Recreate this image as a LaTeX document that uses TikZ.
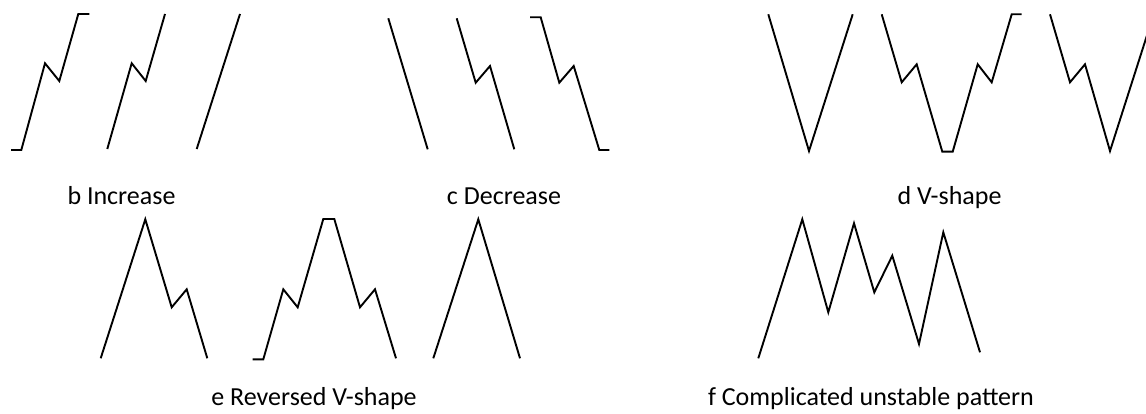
\documentclass[tikz,border=0pt]{standalone}
\usepackage{fontspec}
\setmainfont{Carlito}
\begin{document}
\begin{tikzpicture}[
  x=1pt, y=-1pt,
  trend/.style={draw=black, line width=1.9pt},
  caption/.style={font=\fontsize{26}{30}\selectfont, anchor=base, inner sep=0pt}
]
\useasboundingbox (0,0) rectangle (1146,414);
\clip (0,0) rectangle (1146,414);
% b: increase
\draw[trend] (11,150) -- (21.3,150) -- (45,63.3) -- (59.3,81) -- (78.3,14) -- (89.3,14);
\draw[trend] (107.3,149) -- (131.7,63.3) -- (145.7,81) -- (165,14);
\draw[trend] (196.7,149) -- (240,14);
% c: decrease
\draw[trend] (388.3,18.3) -- (427.7,149.3);
\draw[trend] (456.7,18.3) -- (475.7,82.7) -- (490,66) -- (514.3,149.3);
\draw[trend] (530,17.3) -- (540.7,17.3) -- (559.3,82.7) -- (573.7,66) -- (599.3,150) -- (609.3,150);
% d: V-shape
\draw[trend] (768.3,14.3) -- (809,151) -- (852.7,14.3);
\draw[trend] (881.7,14.3) -- (901.7,82.3) -- (916.7,64.3) -- (942.3,151.7) -- (952.7,151.7)
  -- (977.7,64.3) -- (991.7,82.3) -- (1011.7,14.3) -- (1021.7,14.3);
\draw[trend] (1050,14.3) -- (1070,82.3) -- (1085,64.3) -- (1110,151) -- (1153.7,14.3);
% e: reversed V-shape
\draw[trend] (100.7,358.3) -- (145.3,219.3) -- (171.7,307.3) -- (186.7,289.3) -- (207.3,358.3);
\draw[trend] (252.7,359.3) -- (263.3,359.3) -- (283.3,289.3) -- (297.7,307.3) -- (323.3,219)
  -- (334.3,219) -- (360,307.3) -- (375,289.3) -- (396,358.3);
\draw[trend] (433.3,358.3) -- (478.3,219.3) -- (520,358.3);
% f: complicated
\draw[trend] (758.3,358.3) -- (802.3,219.3) -- (828.3,312.3) -- (854,223.3) -- (874.3,292.3)
  -- (892.3,255.7) -- (919,344) -- (943.3,232.3) -- (980,352.3);
% captions
\node[caption] (capb) at (121.5,205) {b Increase};
\node[caption] (capc) at (504,205) {c Decrease};
\node[caption] (capd) at (949.6,205) {d V-shape};
\node[caption] (cape) at (314,405.5) {e Reversed V-shape};
\node[caption] (capf) at (871,405.5) {f Complicated unstable pattern};
\end{tikzpicture}
\end{document}
